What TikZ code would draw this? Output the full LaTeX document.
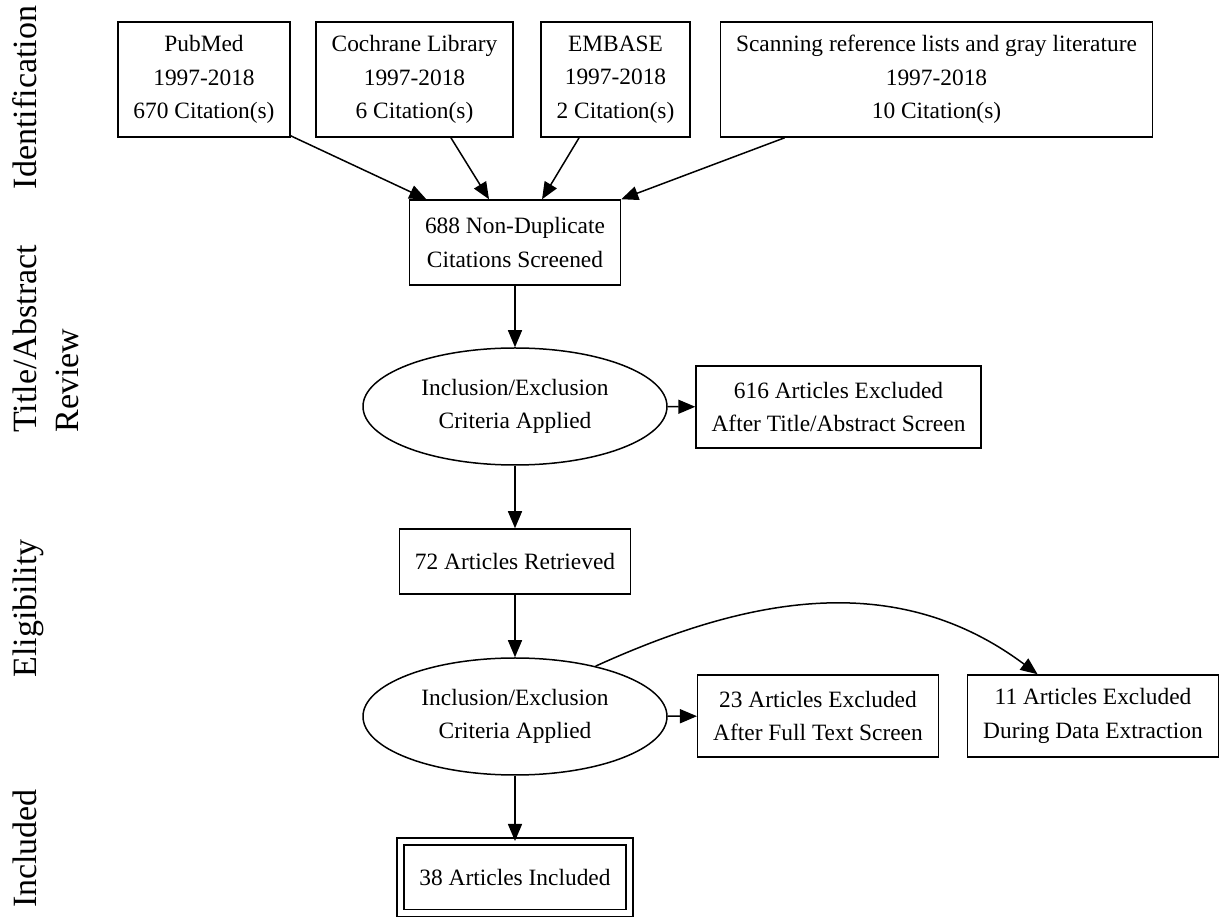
\documentclass[tikz,border=0pt]{standalone}
\usepackage{fontspec}
\setmainfont{Liberation Serif}
\usepackage{tikz}
\usetikzlibrary{shapes, arrows.meta}
\tikzset{box/.style={draw, rectangle, align=center, line width=0.75pt, inner xsep=7.75pt, inner ysep=0pt, minimum height=41pt, font=\fontsize{11.7}{16.65}\selectfont}}
\tikzset{srcbox/.style={box, minimum height=57.5pt}}
\tikzset{crit/.style={draw, ellipse, align=center, line width=0.75pt, minimum width=152pt, minimum height=58.5pt, inner sep=0pt, font=\fontsize{11.7}{16.65}\selectfont}}
\tikzset{stage/.style={rotate=90, inner sep=0pt, font=\fontsize{17}{21}\selectfont}}
\tikzset{arr/.style={-{Triangle[length=8.5pt,width=7pt]}, line width=0.75pt}}

\begin{document}
\begin{tikzpicture}[x=0.5pt,y=-0.5pt]
\useasboundingbox (0,0) rectangle (1223,919);
% stages on the left
\node[stage,anchor=base] (stIdent) at (36,97.5) {Identification};
\node[stage,anchor=north west,align=left] (stReview) at (12.5,433) {Title/Abstract\\Review};
\node[stage,anchor=base] (stElig) at (36,608.5) {Eligibility};
\node[stage,anchor=base] (stIncl) at (36,848.5) {Included};
% sources
\node[srcbox] (pubmed) at (204,79.5) {PubMed\\1997-2018\\670 Citation(s)};
\node[srcbox] (cochrane) at (414.5,79.5) {Cochrane Library\\1997-2018\\6 Citation(s)};
\node[srcbox] (embase) at (615.5,79.5) {EMBASE\\1997-2018\\2 Citation(s)};
\node[srcbox] (scanning) at (936.5,79.5) {Scanning reference lists and gray literature\\1997-2018\\10 Citation(s)};
% screening
\node[box,minimum height=42.5pt] (screened) at (515,242.5) {688 Non-Duplicate\\Citations Screened};
\node[crit] (crit1) at (515,406.5) {Inclusion/Exclusion\\Criteria Applied};
\node[box] (excl1) at (838.5,407) {616 Articles Excluded\\After Title/Abstract Screen};
\node[box,minimum height=32.5pt] (retrieved) at (515,561.5) {72 Articles Retrieved};
\node[crit] (crit2) at (515,716.5) {Inclusion/Exclusion\\Criteria Applied};
\node[box] (excl2) at (818,716) {23 Articles Excluded\\After Full Text Screen};
\node[box] (excl3) at (1093,716) {11 Articles Excluded\\During Data Extraction};
\node[box,double,double distance=2.75pt,inner xsep=9.5pt,minimum height=35.75pt] (included) at (515,877.5) {38 Articles Included};
% arrows
\draw[arr] (pubmed.-33) -- (screened.154);
\draw[arr] (cochrane.-58) -- (screened.121);
\draw[arr] (embase.-122) -- (screened.58);
\draw[arr] (scanning.-159) -- (screened.north east);
\draw[arr] (screened) -- (crit1);
\draw[arr] (crit1) -- (excl1);
\draw[arr] (crit1) -- (retrieved);
\draw[arr] (retrieved) -- (crit2);
\draw[arr] (crit2) -- (excl2);
\draw[arr] (crit2.32) .. controls +(152,-69) and +(-142,-106) .. (excl3.143);
\draw[arr] (crit2) -- (included);
\end{tikzpicture}
\end{document}
